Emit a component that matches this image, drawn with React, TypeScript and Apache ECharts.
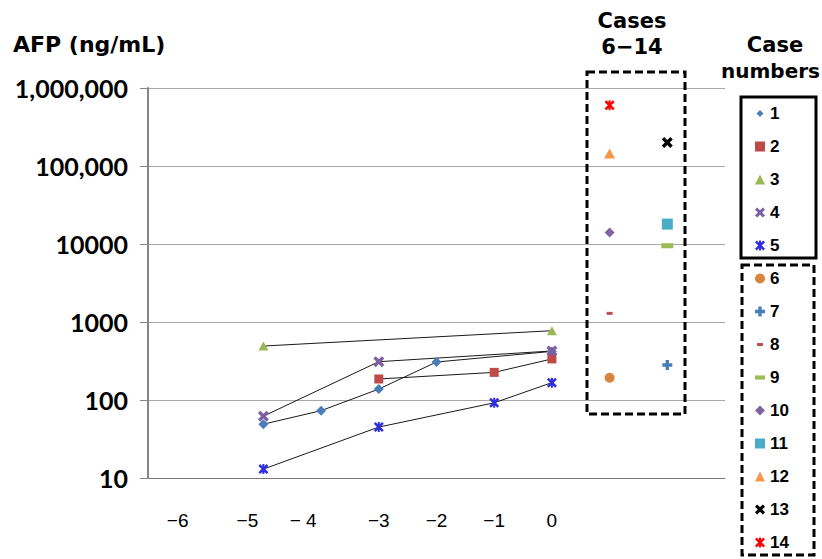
import { useEffect, useRef } from "react";
import * as echarts from "echarts";

// ---- tick labels ----
const yTickValues = [10, 100, 1000, 10000, 100000, 1000000];
const yTickLabels = ["10", "100", "1000", "10000", "100,000", "1,000,000"];
const xTickValues = [-6, -5, -4, -3, -2, -1, 0];
const xTickLabels = ["−6", "−5", "− 4", "−3", "−2", "−1", "0"];

// ---- cases 1-5: serial AFP (ng/mL) ----
const case1Time = [-5, -4, -3, -2, 0];
const case1AFP = [49, 73, 138, 307, 420];
const case2Time = [-3, -1, 0];
const case2AFP = [186, 226, 336];
const case3Time = [-5, 0];
const case3AFP = [492, 773];
const case4Time = [-5, -3, 0];
const case4AFP = [62, 310, 425];
const case5Time = [-5, -3, -1, 0];
const case5AFP = [13, 45, 92, 167];

// ---- cases 6-14: single AFP values ----
const lateCaseNames = ["6", "7", "8", "9", "10", "11", "12", "13", "14"];
const lateCaseColumn = [1, 2, 1, 2, 1, 2, 1, 2, 1];
const lateCaseAFP = [193, 281, 1290, 9500, 14000, 18000, 145000, 200000, 600000];

// ---- marker styles ----
const X_PATH =
  "path://M0,2.2L2.2,0L5,2.8L7.8,0L10,2.2L7.2,5L10,7.8L7.8,10L5,7.2L2.2,10L0,7.8L2.8,5Z";
const STAR_PATH =
  "path://M0,1.8L1.8,0L5,3.2L8.2,0L10,1.8L6.8,5L10,8.2L8.2,10L5,6.8L1.8,10L0,8.2L3.2,5Z M4,0L6,0L6,10L4,10Z";
const PLUS_PATH = "path://M3.3,0H6.7V3.3H10V6.7H6.7V10H3.3V6.7H0V3.3H3.3Z";
const SMALL_DASH = "path://M0,0M10,10M2,3.5H8V6.5H2Z";
const LONG_DASH = "path://M0,0M12,12M0,3.5H12V8.5H0Z";
const SMALL_DIAMOND = "path://M0,0M10,10M5,1.5L8.5,5L5,8.5L1.5,5Z";

const earlyStyles = [
  { symbol: "diamond", size: [10, 10], icon: SMALL_DIAMOND, color: "#4A7EBB" },
  { symbol: "rect", size: [9, 9], icon: "rect", color: "#BE4B48" },
  { symbol: "triangle", size: [10, 9], icon: "triangle", color: "#98B954" },
  { symbol: X_PATH, size: [11, 11], icon: X_PATH, color: "#7D60A0" },
  { symbol: STAR_PATH, size: [10, 10], icon: STAR_PATH, color: "#2F2FE0" },
];
const lateStyles = [
  { symbol: "circle", size: [10, 10], icon: "circle", color: "#DB843D" },
  { symbol: PLUS_PATH, size: [10, 10], icon: PLUS_PATH, color: "#4A7EBB" },
  { symbol: "rect", size: [6, 3], icon: SMALL_DASH, color: "#C0504D" },
  { symbol: "rect", size: [12, 5], icon: LONG_DASH, color: "#9BBB59" },
  { symbol: "diamond", size: [10, 10], icon: "diamond", color: "#8064A2" },
  { symbol: "rect", size: [11, 11], icon: "rect", color: "#4BACC6" },
  { symbol: "triangle", size: [11, 10], icon: "triangle", color: "#F79646" },
  { symbol: X_PATH, size: [11, 11], icon: X_PATH, color: "#000000" },
  { symbol: STAR_PATH, size: [10, 10], icon: STAR_PATH, color: "#FF0000" },
];

const xLabelShift: Record<string, number> = { "-6": 28, "-5": 16, "-4": 18 };

function buildOption() {
  const earlyTimes = [case1Time, case2Time, case3Time, case4Time, case5Time];
  const earlyValues = [case1AFP, case2AFP, case3AFP, case4AFP, case5AFP];
  const earlySeries = earlyTimes.map((times, i) => ({
    type: "line",
    name: String(i + 1),
    data: times.map((t, j) => [t, earlyValues[i][j]]),
    symbol: earlyStyles[i].symbol,
    symbolSize: earlyStyles[i].size,
    itemStyle: { color: earlyStyles[i].color },
    lineStyle: { color: "#1a1a1a", width: 1 },
    z: 3,
  }));
  const lateSeries = lateCaseNames.map((name, i) => ({
    type: "scatter",
    name,
    data: [[lateCaseColumn[i], lateCaseAFP[i]]],
    symbol: lateStyles[i].symbol,
    symbolSize: lateStyles[i].size,
    itemStyle: { color: lateStyles[i].color, opacity: 1 },
    z: 3,
  }));

  const rich: Record<string, any> = {
    n: { fontFamily: "Liberation Sans", fontSize: 19, color: "#000" },
  };
  const shiftKeys = Object.keys(xLabelShift);
  shiftKeys.forEach((k, i) => {
    rich["s" + i] = {
      fontFamily: "Liberation Sans",
      fontSize: 19,
      color: "#000",
      padding: [0, xLabelShift[k] * 2, 0, 0],
    };
  });

  const legendText = {
    fontFamily: "Liberation Sans",
    fontWeight: "bold",
    fontSize: 17,
    color: "#000",
    lineHeight: 17,
  };

  return {
    animation: false,
    backgroundColor: "#ffffff",
    grid: { left: 148, right: 97, top: 88, bottom: 81, containLabel: false },
    xAxis: {
      type: "value",
      min: -7,
      max: 3,
      interval: 1,
      splitLine: { show: false },
      axisTick: { show: false },
      axisLine: { show: true, onZero: false, lineStyle: { color: "#7a7a7a", width: 1 } },
      axisLabel: {
        margin: 33,
        formatter: (v: number) => {
          const idx = xTickValues.indexOf(v);
          if (idx < 0) return "";
          const si = shiftKeys.indexOf(String(v));
          return si >= 0 ? `{s${si}|${xTickLabels[idx]}}` : `{n|${xTickLabels[idx]}}`;
        },
        rich,
      },
    },
    yAxis: {
      type: "log",
      logBase: 10,
      min: 10,
      max: 1000000,
      axisLine: { show: true, onZero: false, lineStyle: { color: "#868686", width: 2 } },
      axisTick: { show: true, inside: false, length: 8, lineStyle: { color: "#868686", width: 1 } },
      splitLine: { show: true, lineStyle: { color: "#a6a6a6", width: 1 } },
      axisLabel: {
        margin: 20,
        fontFamily: "Lato",
        fontWeight: "bold",
        fontSize: 25,
        color: "#000",
        formatter: (v: number) => {
          const idx = yTickValues.findIndex((t) => Math.abs(t - v) / t < 1e-6);
          return idx >= 0 ? yTickLabels[idx] : "";
        },
      },
    },
    legend: [
      {
        data: earlyStyles.map((s, i) => ({ name: String(i + 1), icon: s.icon })),
        orient: "vertical",
        left: 755,
        top: 105,
        itemWidth: 10,
        itemHeight: 10,
        itemGap: 16,
        padding: 0,
        selectedMode: false,
        textStyle: legendText,
      },
      {
        data: lateCaseNames.map((n, i) => ({ name: n, icon: lateStyles[i].icon })),
        orient: "vertical",
        left: 755,
        top: 270,
        itemWidth: 10,
        itemHeight: 10,
        itemGap: 16,
        padding: 0,
        selectedMode: false,
        textStyle: legendText,
      },
    ],
    graphic: [
      {
        type: "text",
        x: 13,
        y: 44,
        style: { text: "AFP (ng/mL)", font: 'bold 22px "DejaVu Sans"', fill: "#000", align: "left", verticalAlign: "middle" },
      },
      {
        type: "text",
        x: 632,
        y: 21,
        style: { text: "Cases", font: 'bold 21px "DejaVu Sans"', fill: "#000", align: "center", verticalAlign: "middle" },
      },
      {
        type: "text",
        x: 632,
        y: 47,
        style: { text: "6−14", font: 'bold 21px "DejaVu Sans"', fill: "#000", align: "center", verticalAlign: "middle" },
      },
      {
        type: "text",
        x: 775,
        y: 45,
        style: { text: "Case", font: 'bold 21px "DejaVu Sans"', fill: "#000", align: "center", verticalAlign: "middle" },
      },
      {
        type: "text",
        x: 820,
        y: 71,
        style: { text: "numbers", font: 'bold 20px "DejaVu Sans"', fill: "#000", align: "right", verticalAlign: "middle" },
      },
      {
        type: "rect",
        shape: { x: 587, y: 72, width: 98, height: 342 },
        style: { fill: "none", stroke: "#000", lineWidth: 3, lineDash: [8, 4] },
        z: 10,
      },
      {
        type: "rect",
        shape: { x: 741, y: 97, width: 75, height: 161 },
        style: { fill: "none", stroke: "#000", lineWidth: 3 },
        z: 10,
      },
      {
        type: "rect",
        shape: { x: 742, y: 265, width: 72, height: 290 },
        style: { fill: "none", stroke: "#000", lineWidth: 3, lineDash: [8, 4] },
        z: 10,
      },
    ],
    series: [...earlySeries, ...lateSeries],
  };
}

export default function App() {
  const ref = useRef<HTMLDivElement>(null);
  useEffect(() => {
    if (!ref.current) return;
    const chart = echarts.init(ref.current, undefined, { renderer: "svg" });
    chart.setOption(buildOption() as any);
    return () => chart.dispose();
  }, []);
  return (
    <div
      ref={ref}
      style={{ position: "fixed", left: 0, top: 0, width: 822, height: 559, background: "#fff" }}
    />
  );
}
